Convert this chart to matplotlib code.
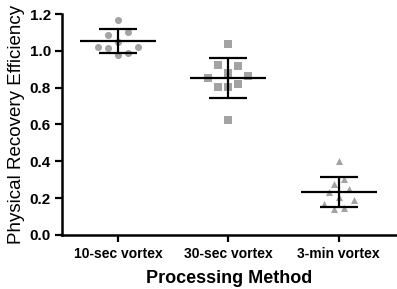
import numpy as np
import matplotlib
matplotlib.use("Agg")
import matplotlib.pyplot as plt

# categories and read-off values
methods = ["10-sec vortex", "30-sec vortex", "3-min vortex"]
vals_10s = [1.17, 1.10, 1.084, 1.05, 1.02, 1.015, 1.02, 0.975, 0.988]
vals_30s = [1.038, 0.924, 0.918, 0.882, 0.852, 0.861, 0.806, 0.803, 0.821, 0.625]
vals_3m = [0.402, 0.276, 0.303, 0.235, 0.25, 0.208, 0.168, 0.188, 0.139, 0.148]
means = [1.053, 0.852, 0.235]
sds = [0.063, 0.108, 0.081]

# horizontal scatter of the points (in units of dot spacing)
jit_10s = [0, 1, -1, 0, -2, -1, 2, 0, 1]
jit_30s = [0, -1, 1, 0, -2, 2, -1, 0, 1, 0]
jit_3m = [0, -0.5, 0.5, -1, 1, 0, -1.5, 1.5, -0.5, 0.5]

plt.rcParams["font.family"] = "Liberation Sans"

fig = plt.figure(figsize=(3.97, 2.89), dpi=100)
ax = fig.add_axes([62/397, 1-235/289, (396-62)/397, (235-14)/289])

grey = "#a3a3a3"
step = 0.09
groups = [(vals_10s, jit_10s, "o"), (vals_30s, jit_30s, "s"), (vals_3m, jit_3m, "^")]
for i, (v, j, m) in enumerate(groups):
  x = i + np.array(j) * step
  ax.scatter(x, v, marker=m, s=26, color=grey, linewidths=0, zorder=2)

ax.errorbar(range(3), means, yerr=sds, fmt="none", ecolor="black",
            elinewidth=1.6, capsize=14, capthick=1.6, zorder=3)
ax.hlines(means, np.arange(3)-0.345, np.arange(3)+0.345, colors="black",
          linewidth=1.6, zorder=3)

ax.set_xlim(-0.507, 2.52)
ax.set_ylim(0, 1.2)
ax.set_yticks(np.arange(0, 1.21, 0.2))
ax.set_yticklabels(["%.1f" % t for t in np.arange(0, 1.21, 0.2)], fontweight="bold")
ax.set_xticks(range(3))
ax.set_xticklabels(methods, fontweight="bold")
ax.tick_params(axis="y", labelsize=11, width=1.6, length=5, pad=3)
ax.tick_params(axis="x", labelsize=10, width=1.6, length=5, pad=4)

for s in ["top", "right"]:
  ax.spines[s].set_visible(False)
for s in ["left", "bottom"]:
  ax.spines[s].set_linewidth(1.8)

ax.set_xlabel("Processing Method", fontsize=13, fontweight="bold", labelpad=6)
ax.set_ylabel("Physical Recovery Efficiency", fontsize=13.5, labelpad=3)

fig.savefig("out.png", dpi=100)
